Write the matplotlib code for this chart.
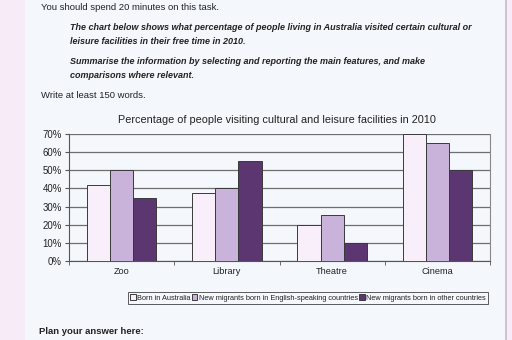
import matplotlib
matplotlib.use("Agg")
import matplotlib.pyplot as plt
import numpy as np
from matplotlib.patches import Rectangle

categories = ["Zoo", "Library", "Theatre", "Cinema"]
series_names = ["Born in Australia",
                "New migrants born in English-speaking countries",
                "New migrants born in other countries"]
born_australia = [42, 37.5, 20, 70]
migrants_english = [50, 40, 25.5, 65]
migrants_other = [34.5, 55, 10, 50]
y_ticks = [0, 10, 20, 30, 40, 50, 60, 70]
y_tick_labels = ["0%", "10%", "20%", "30%", "40%", "50%", "60%", "70%"]

colors = ["#f8effa", "#c9b3da", "#5c3670"]
page_bg = "#f4f7fb"
pink = "#f7ebf7"
font = "Liberation Sans"

W, H = 512, 340
fig = plt.figure(figsize=(W / 100, H / 100), dpi=100)
fig.patch.set_facecolor(pink)

# page panel
fig.patches.append(Rectangle((25 / W, 0), (505 - 25) / W, 1, transform=fig.transFigure,
                             facecolor=page_bg, edgecolor="none", zorder=-5))
fig.lines.append(plt.Line2D([505.5 / W, 505.5 / W], [0, 1], transform=fig.transFigure,
                            color="#c9bccf", lw=1.2, zorder=-4))

def ftext(x, y, s, **kw):
    fig.text(x / W, 1 - y / H, s, va="center", ha="left", family=font, color="#222222", **kw)

ftext(41, 7, "You should spend 20 minutes on this task.", fontsize=6.8)
ftext(70, 28, "The chart below shows what percentage of people living in Australia visited certain cultural or",
      fontsize=6.45, fontweight="bold", style="italic")
ftext(70, 42, "leisure facilities in their free time in 2010.", fontsize=6.45, fontweight="bold", style="italic")
ftext(70, 62, "Summarise the information by selecting and reporting the main features, and make",
      fontsize=6.45, fontweight="bold", style="italic")
ftext(70, 75, "comparisons where relevant.", fontsize=6.45, fontweight="bold", style="italic")
ftext(41, 96, "Write at least 150 words.", fontsize=6.8)
ftext(39, 331, "Plan your answer here:", fontsize=6.8, fontweight="bold")

ax = fig.add_axes([69 / W, 1 - 261 / H, 421 / W, 127 / H])
ax.set_facecolor(page_bg)
x = np.arange(len(categories))
w = 0.22
for i, (vals, c) in enumerate(zip([born_australia, migrants_english, migrants_other], colors)):
    ax.bar(x + (i - 1) * w, vals, width=w, color=c, edgecolor="#3a3a3a", linewidth=0.7,
           label=series_names[i], zorder=3)

ax.set_xlim(-0.5, 3.5)
ax.set_ylim(0, 70)
ax.set_yticks(y_ticks)
ax.set_yticklabels(y_tick_labels, family=font, fontsize=6.9, color="#222222")
ax.set_xticks(x)
ax.set_xticklabels(categories, family=font, fontsize=6.6, color="#222222")
ax.set_xticks(np.arange(-0.5, 4.0, 1.0), minor=True)
ax.tick_params(axis="x", which="major", length=0, pad=4)
ax.tick_params(axis="x", which="minor", length=3, direction="out", color="#555555")
ax.tick_params(axis="y", length=3, direction="out", color="#555555", pad=2)
ax.yaxis.grid(True, color="#6e6e6e", linewidth=0.9, zorder=0)
ax.set_axisbelow(True)
ax.spines["top"].set_visible(False)
ax.spines["left"].set_color("#555555")
ax.spines["bottom"].set_color("#555555")
ax.spines["right"].set_color("#888888")
ax.spines["right"].set_linewidth(0.8)

fig.text(277 / W, 1 - 120 / H, "Percentage of people visiting cultural and leisure facilities in 2010",
         ha="center", va="center", family=font, fontsize=7.8, color="#222222")

leg = fig.legend(loc="center", bbox_to_anchor=(308 / W, 1 - 298 / H), ncol=3, frameon=True,
                 fancybox=False, prop={"family": font, "size": 5.3}, handlelength=0.75,
                 handleheight=0.75, handletextpad=0.2, columnspacing=0.15, borderpad=0.35,
                 borderaxespad=0)
leg.get_frame().set_edgecolor("#333333")
leg.get_frame().set_linewidth(0.7)
leg.get_frame().set_facecolor(page_bg)
for t in leg.get_texts():
    t.set_color("#222222")

fig.savefig("out.png", dpi=100, facecolor=fig.get_facecolor())
